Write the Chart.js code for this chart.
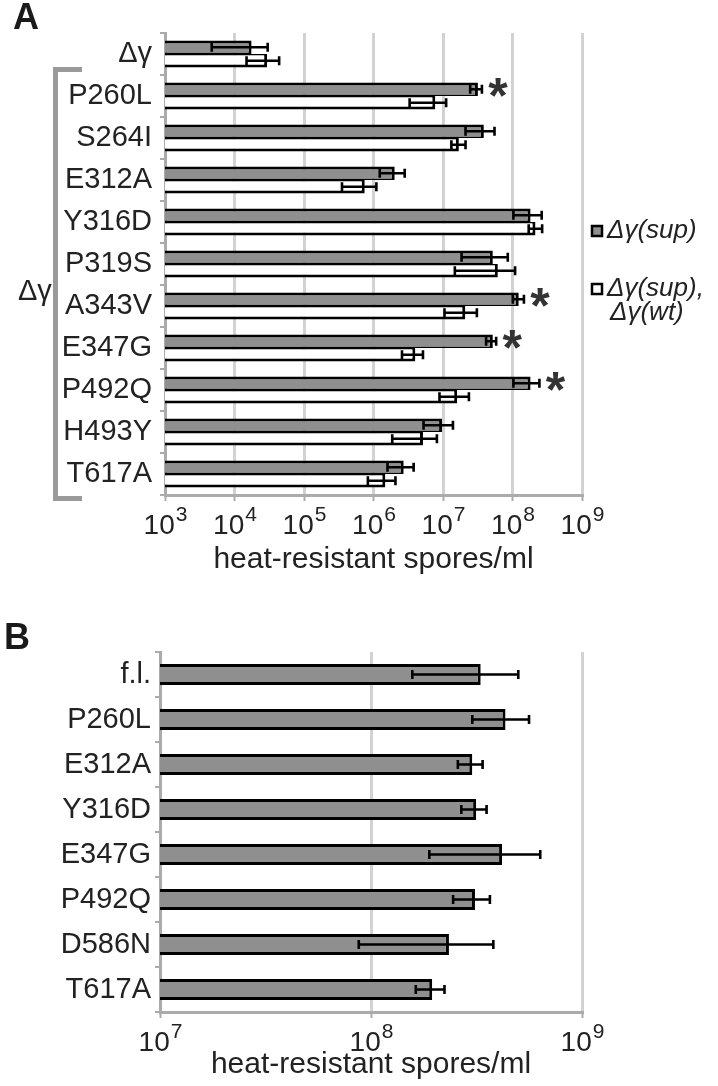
<!DOCTYPE html>
<html><head><meta charset="utf-8">
<script src="https://cdn.jsdelivr.net/npm/chart.js@4"></script>
<style>
html,body{margin:0;padding:0;background:#fff;}
#wrap{position:relative;width:718px;height:1086px;overflow:hidden;}
#cA{position:absolute;left:0;top:0;width:718px;height:600px;}
#cB{position:absolute;left:0;top:620px;width:718px;height:466px;}
</style></head><body>
<div id="wrap"><canvas id="cA" width="718" height="600"></canvas><canvas id="cB" width="718" height="466"></canvas></div>
<script>
// ---------- Panel A data ----------
const categoriesA = ['Δγ','P260L','S264I','E312A','Y316D','P319S','A343V','E347G','P492Q','H493Y','T617A'];
const supMeanA = [1.76e4, 3.18e7, 3.87e7, 2.02e6, 1.82e8, 5.21e7, 1.23e8, 5.21e7, 1.82e8, 9.7e6, 2.72e6];
const supLowA  = [4.7e3, 2.46e7, 2.11e7, 1.23e6, 1.03e8, 1.85e7, 1.01e8, 4.17e7, 1.03e8, 5.25e6, 1.59e6];
const supHighA = [3.0e4, 3.63e7, 5.51e7, 2.81e6, 2.63e8, 8.55e7, 1.46e8, 5.82e7, 2.44e8, 1.39e7, 3.78e6];
const wtMeanA  = [2.95e4, 7.75e6, 1.69e7, 7.48e5, 2.14e8, 6.15e7, 2.09e7, 4.0e6, 1.6e7, 5.15e6, 1.48e6];
const wtLowA   = [1.49e4, 3.31e6, 1.32e7, 3.52e5, 1.71e8, 1.48e7, 1.05e7, 2.57e6, 8.9e6, 1.86e6, 8.3e5];
const wtHighA  = [4.39e4, 1.11e7, 2.11e7, 1.1e6, 2.67e8, 1.09e8, 3.07e7, 5.15e6, 2.36e7, 8.17e6, 2.07e6];
const significantA = ['P260L','A343V','E347G','P492Q'];
const seriesLabelsA = ['Δγ(sup)', 'Δγ(sup), Δγ(wt)'];
const legendLinesA = [['Δγ(sup)'], ['Δγ(sup),', 'Δγ(wt)']];
const bracketLabelA = 'Δγ';
const tickExponentsA = [3,4,5,6,7,8,9];

// ---------- Panel B data ----------
const categoriesB = ['f.l.','P260L','E312A','Y316D','E347G','P492Q','D586N','T617A'];
const meanB = [3.31e8, 4.34e8, 3.02e8, 3.15e8, 4.18e8, 3.11e8, 2.34e8, 1.95e8];
const lowB  = [1.57e8, 3.02e8, 2.58e8, 2.68e8, 1.89e8, 2.45e8, 8.75e7, 1.63e8];
const highB = [4.99e8, 5.61e8, 3.38e8, 3.53e8, 6.34e8, 3.66e8, 3.8e8, 2.23e8];
const seriesLabelB = 'Δγ(sup)';
const tickExponentsB = [7,8,9];

const axisTitle = 'heat-resistant spores/ml';

// ---------- styles ----------
const FONT = "'Liberation Sans', Arial, Helvetica, sans-serif";
const TXT = '#222222';
const BAR_GRAY = '#8f8f8f';
const GRID = '#d2d2d2';
const AXIS = '#ababab';

const errorBars = {
  id: 'errbars',
  afterDatasetsDraw(chart, args, opts) {
    const ctx = chart.ctx, xs = chart.scales.x;
    ctx.save();
    ctx.strokeStyle = '#000';
    ctx.lineWidth = opts.width;
    ctx.lineCap = 'butt';
    opts.sets.forEach((s, di) => {
      const meta = chart.getDatasetMeta(di);
      meta.data.forEach((bar, i) => {
        const y = bar.y;
        const x1 = xs.getPixelForValue(s.low[i]);
        const x2 = xs.getPixelForValue(s.high[i]);
        const c = opts.cap;
        ctx.beginPath();
        ctx.moveTo(x1, y); ctx.lineTo(x2, y);
        ctx.moveTo(x1, y - c); ctx.lineTo(x1, y + c);
        ctx.moveTo(x2, y - c); ctx.lineTo(x2, y + c);
        ctx.stroke();
      });
    });
    ctx.restore();
  }
};

const expTicks = {
  id: 'expticks',
  afterDraw(chart, args, opts) {
    const ctx = chart.ctx, xs = chart.scales.x, base = xs.top;
    ctx.save();
    ctx.fillStyle = TXT;
    ctx.textAlign = 'left';
    ctx.textBaseline = 'alphabetic';
    opts.exps.forEach(e => {
      const x = xs.getPixelForValue(Math.pow(10, e));
      ctx.font = opts.size + 'px ' + FONT;
      const w1 = ctx.measureText('10').width;
      ctx.font = opts.supSize + 'px ' + FONT;
      const w2 = ctx.measureText(String(e)).width;
      const x0 = x - (w1 + w2) / 2;
      ctx.font = opts.size + 'px ' + FONT;
      ctx.fillText('10', x0, base + opts.dy);
      ctx.font = opts.supSize + 'px ' + FONT;
      ctx.fillText(String(e), x0 + w1 + 1, base + opts.supDy);
    });
    ctx.restore();
  }
};

const decorA = {
  id: 'decorA',
  afterDraw(chart) {
    const ctx = chart.ctx, xs = chart.scales.x, ys = chart.scales.y;
    ctx.save();
    // panel letter
    ctx.fillStyle = '#1a1a1a';
    ctx.font = 'bold 36px ' + FONT;
    ctx.textBaseline = 'alphabetic';
    ctx.textAlign = 'left';
    ctx.fillText('A', 13, 29);
    // bracket
    ctx.strokeStyle = '#9a9a9a';
    ctx.lineWidth = 5;
    ctx.lineCap = 'butt';
    ctx.lineJoin = 'miter';
    ctx.beginPath();
    ctx.moveTo(82, 69.5); ctx.lineTo(55.5, 69.5); ctx.lineTo(55.5, 498.5); ctx.lineTo(82, 498.5);
    ctx.stroke();
    ctx.fillStyle = TXT;
    ctx.font = '29px ' + FONT;
    ctx.textBaseline = 'middle';
    ctx.fillText(bracketLabelA, 18, 292);
    // stars
    ctx.fillStyle = '#333';
    ctx.font = 'bold 100px ' + FONT;
    let m = ctx.measureText('*');
    const h100 = m.actualBoundingBoxAscent + m.actualBoundingBoxDescent;
    const size = 100 * 19 / h100;
    ctx.font = 'bold ' + size + 'px ' + FONT;
    m = ctx.measureText('*');
    ctx.textAlign = 'center';
    ctx.textBaseline = 'alphabetic';
    significantA.forEach(name => {
      const i = categoriesA.indexOf(name);
      const xMax = Math.max(xs.getPixelForValue(supHighA[i]), xs.getPixelForValue(wtHighA[i]));
      const cy = ys.getPixelForValue(i) + 5;
      const by = cy + (m.actualBoundingBoxAscent - m.actualBoundingBoxDescent) / 2;
      ctx.fillText('*', xMax + 16, by);
    });
    // legend
    const items = [
      {fill: chart.data.datasets[0].backgroundColor, y: 231},
      {fill: chart.data.datasets[1].backgroundColor, y: 289}
    ];
    ctx.textAlign = 'left';
    ctx.textBaseline = 'middle';
    items.forEach((it, k) => {
      ctx.fillStyle = it.fill;
      ctx.fillRect(592, it.y - 5, 10, 10);
      ctx.strokeStyle = '#000';
      ctx.lineWidth = 2.5;
      ctx.strokeRect(592, it.y - 5, 10, 10);
      ctx.fillStyle = TXT;
      ctx.font = 'italic 26px ' + FONT;
      legendLinesA[k].forEach((ln, j) => {
        ctx.fillText(ln, 607 + (j > 0 ? 3 : 0), it.y + j * 24);
      });
    });
    ctx.restore();
  }
};

const decorB = {
  id: 'decorB',
  afterDraw(chart) {
    const ctx = chart.ctx;
    ctx.save();
    ctx.fillStyle = '#1a1a1a';
    ctx.font = 'bold 36px ' + FONT;
    ctx.textBaseline = 'alphabetic';
    ctx.textAlign = 'left';
    ctx.fillText('B', 4, 29);
    ctx.restore();
  }
};

function makeOptions(cfg) {
  return {
    responsive: false,
    animation: false,
    indexAxis: 'y',
    devicePixelRatio: 1,
    layout: {padding: {left: 0, right: cfg.padRight, top: cfg.padTop, bottom: 0}},
    plugins: {
      legend: {display: false},
      tooltip: {enabled: false},
      errbars: {sets: cfg.errSets, width: 2.6, cap: cfg.cap},
      expticks: {exps: cfg.exps, size: 28, supSize: 21, dy: 39, supDy: 26}
    },
    scales: {
      x: {
        type: 'logarithmic',
        min: Math.pow(10, cfg.exps[0]),
        max: Math.pow(10, cfg.exps[cfg.exps.length - 1]),
        afterBuildTicks: (axis) => { axis.ticks = cfg.exps.map(e => ({value: Math.pow(10, e), major: true})); },
        afterFit: (scale) => { scale.height = cfg.xHeight; },
        ticks: {display: false},
        grid: {color: GRID, lineWidth: 3, drawTicks: true, tickLength: 6, tickColor: AXIS, tickWidth: 2},
        border: {display: true, color: AXIS, width: 3},
        title: {display: true, text: axisTitle, color: TXT, font: {family: FONT, size: 30}, padding: {top: 0, bottom: cfg.titlePad}}
      },
      y: {
        type: 'category',
        afterFit: (scale) => { scale.width = cfg.yWidth; },
        ticks: {color: TXT, font: {family: FONT, size: 29}, padding: cfg.yPad, autoSkip: false},
        grid: {display: true, drawOnChartArea: false, drawTicks: true, tickLength: 5, color: AXIS, lineWidth: 2, offset: true},
        border: {display: true, color: AXIS, width: 3}
      }
    }
  };
}

new Chart(document.getElementById('cA'), {
  type: 'bar',
  data: {
    labels: categoriesA,
    datasets: [
      {label: seriesLabelsA[0], data: supMeanA, backgroundColor: BAR_GRAY, borderColor: '#000',
       borderWidth: {top: 3, right: 3, bottom: 1.5, left: 0}, borderSkipped: 'start',
       categoryPercentage: 0.64, barPercentage: 1.0},
      {label: seriesLabelsA[1], data: wtMeanA, backgroundColor: '#ffffff', borderColor: '#000',
       borderWidth: {top: 1.5, right: 3, bottom: 3, left: 0}, borderSkipped: 'start',
       categoryPercentage: 0.64, barPercentage: 1.0}
    ]
  },
  options: makeOptions({
    padRight: 136, padTop: 33, xHeight: 105, yWidth: 165, yPad: 8, titlePad: 22, cap: 4.5,
    exps: tickExponentsA,
    errSets: [{low: supLowA, high: supHighA}, {low: wtLowA, high: wtHighA}]
  }),
  plugins: [errorBars, expTicks, decorA]
});

new Chart(document.getElementById('cB'), {
  type: 'bar',
  data: {
    labels: categoriesB,
    datasets: [
      {label: seriesLabelB, data: meanB, backgroundColor: BAR_GRAY, borderColor: '#000',
       borderWidth: 3, borderSkipped: 'start',
       categoryPercentage: 0.47, barPercentage: 1.0}
    ]
  },
  options: makeOptions({
    padRight: 136, padTop: 32, xHeight: 74, yWidth: 160, yPad: 4, titlePad: 3, cap: 4.5,
    exps: tickExponentsB,
    errSets: [{low: lowB, high: highB}]
  }),
  plugins: [errorBars, expTicks, decorB]
});
</script>
</body></html>
